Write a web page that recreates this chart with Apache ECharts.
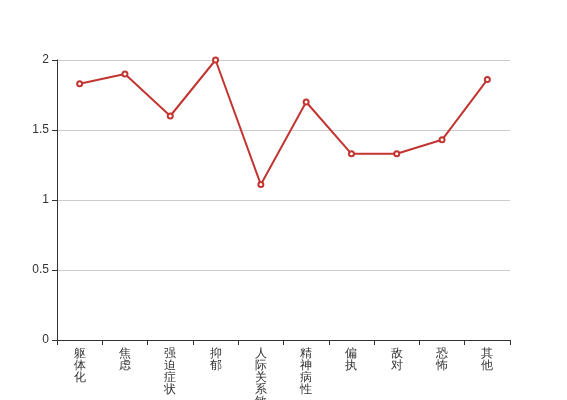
<!DOCTYPE html>
<html><head><meta charset="utf-8">
<script src="https://cdn.jsdelivr.net/npm/echarts@6/dist/echarts.min.js"></script>
<style>html,body{margin:0;padding:0;background:#fff}#c{width:567px;height:400px}</style>
</head><body><div id="c"></div>
<script>
var categories = ['躯体化','焦虑','强迫症状','抑郁','人际关系敏感','精神病性','偏执','敌对','恐怖','其他'];
var values = [1.83, 1.9, 1.6, 2.0, 1.11, 1.7, 1.33, 1.33, 1.43, 1.86];
var chart = echarts.init(document.getElementById('c'));
chart.setOption({
  animation: false,
  grid: {left: 57, right: 57, top: 60, bottom: 60, containLabel: false, outerBoundsMode: 'none'},
  xAxis: {
    type: 'category', data: categories, boundaryGap: true,
    axisLine: {lineStyle: {color: '#333'}},
    axisTick: {show: true, alignWithLabel: false, interval: 0, length: 5, lineStyle: {color: '#333'}},
    axisLabel: {color: '#333', fontSize: 12, lineHeight: 12, margin: 8, interval: 0, hideOverlap: false,
      formatter: function (v) { return v.split('').join('\n'); }}
  },
  yAxis: {
    type: 'value', min: 0, max: 2, interval: 0.5,
    axisLine: {show: true, lineStyle: {color: '#333'}},
    axisTick: {show: true, length: 5, lineStyle: {color: '#333'}},
    axisLabel: {color: '#333', fontSize: 12},
    splitLine: {lineStyle: {color: '#ccc'}}
  },
  series: [{
    type: 'line', data: values,
    symbol: 'emptyCircle', symbolSize: 5,
    itemStyle: {color: '#c23531', borderWidth: 1},
    lineStyle: {color: '#c23531', width: 2}
  }]
});
</script></body></html>
